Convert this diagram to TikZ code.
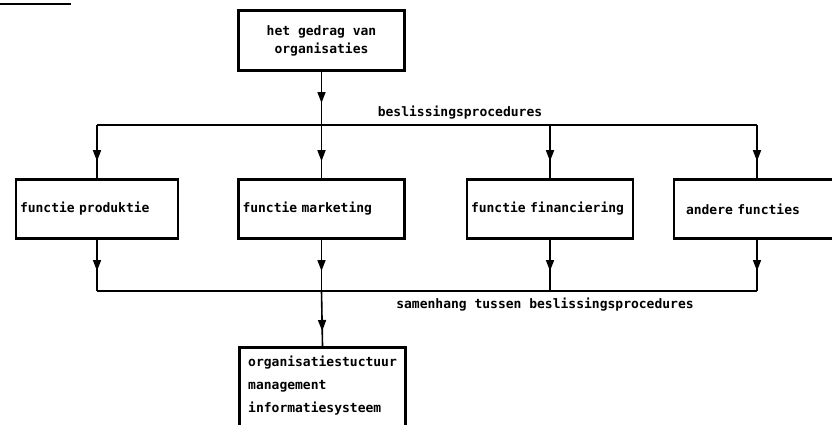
\documentclass[tikz,border=0pt]{standalone}
\usepackage{fontspec}
\setmonofont{DejaVu Sans Mono}
\usetikzlibrary{arrows.meta,decorations.markings}
\begin{document}
\begin{tikzpicture}[x=1pt,y=-1pt,
  every node/.style={font=\ttfamily\bfseries\fontsize{13}{18}\selectfont},
  box/.style={draw,line width=2.6pt,minimum height=59pt,inner sep=0pt},
  lbox/.style={box,text width=#1-8pt,minimum width=#1,align=left,inner xsep=4pt},
  conn/.style={line width=1.6pt},
  arr/.style={conn,postaction={decorate},decoration={markings,mark=at position #1 with {\arrow{Triangle[width=8pt,length=11pt]}}}},
  lbl/.style={inner sep=0pt}]
\useasboundingbox (0,0) rectangle (832,424);
\clip (0,0) rectangle (832,424);
% partial heading underline at the top edge
\draw[conn] (0,4) -- (71,4);
% top box
\node[box,minimum width=166pt,minimum height=60pt,align=center] (top) at (321.5,40.5) {het gedrag van\\organisaties};
% buses
\coordinate (b1L) at (97,125);
\coordinate (b1R) at (757,125);
\coordinate (b2L) at (97,291);
\coordinate (b2R) at (757,291);
\draw[conn] (b1L) -- (b1R);
\draw[conn] (b2L) -- (b2R);
\node[lbl] (l1) at (460,113) {beslissingsprocedures};
\node[lbl] (l2) at (545,305) {samenhang tussen beslissingsprocedures};
% function boxes
\node[lbox=162pt] (f1) at (97,209) {functie produktie};
\node[lbox=166pt] (f2) at (321.5,209) {functie marketing};
\node[lbox=166pt] (f3) at (550,209) {functie financiering};
\node[lbox=166pt] (f4) at (757,209) {\hspace*{8pt}andere functies};
% bottom box
\node[box,minimum width=166pt,minimum height=110pt,anchor=north] (org) at (322.5,346) {};
\node[lbl,anchor=north west,align=left,font=\ttfamily\bfseries\fontsize{13}{23}\selectfont] (orgt) at (248,356) {organisatiestuctuur\\management\\informatiesysteem};
% connectors
\draw[arr=-22pt] (top.south) -- (top.south |- b1L);
\foreach \n in {f1,f2,f3,f4}{
  \draw[arr=-17pt] (\n.north |- b1L) -- (\n.north);
  \draw[arr=-20pt] (\n.south) -- (\n.south |- b2L);
}
\draw[arr=-15pt] (f2.south |- b2L) -- (org.north);
\end{tikzpicture}
\end{document}
